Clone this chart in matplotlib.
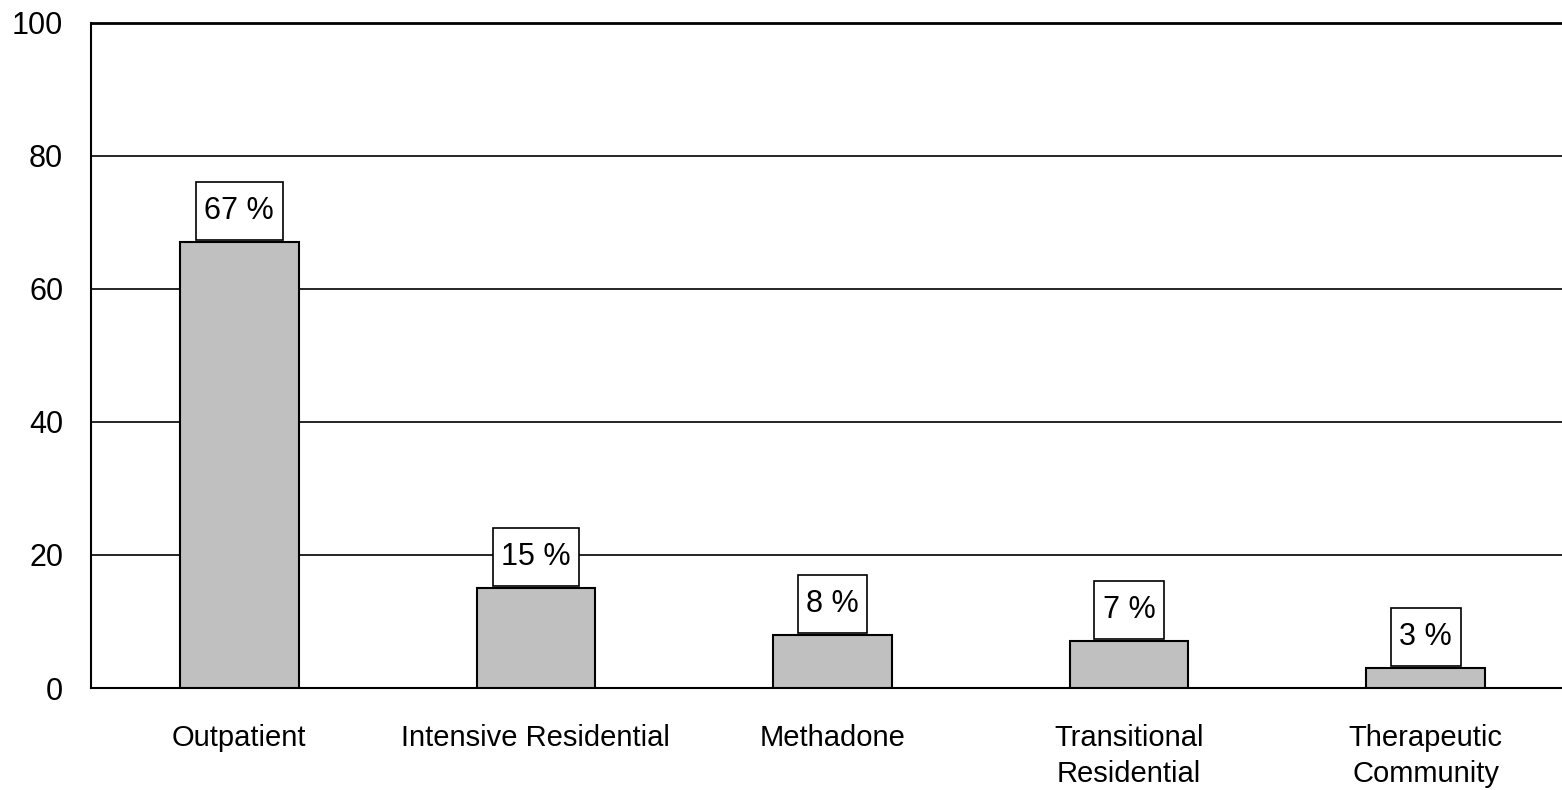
import numpy as np
import matplotlib.pyplot as plt
from matplotlib.path import Path

categories = ['Outpatient', 'Intensive Residential', 'Methadone', 'Transitional\nResidential', 'Therapeutic\nCommunity']
values = [67, 15, 8, 7, 3]
yticks = [0, 20, 40, 60, 80, 100]

plt.rcParams['font.family'] = ['Liberation Sans', 'DejaVu Sans']

def label_box(x0, y0, width, height, mutation_size):      # rectangle with more padding up/down than left/right
    px, py = 0.28 * mutation_size, 0.46 * mutation_size
    x0, y0 = x0 - px, y0 - py
    w, h = width + 2 * px, height + 2 * py
    return Path([(x0, y0), (x0 + w, y0), (x0 + w, y0 + h), (x0, y0 + h), (x0, y0)], closed=True)

W, H = 1562, 790
fig = plt.figure(figsize=(W / 100, H / 100), dpi=100)
# axes goes a bit past the right edge like the original
left, right = 91, 1574
bottom, top = 688, 22.5
ax = fig.add_axes([left / W, 1 - bottom / H, (right - left) / W, (bottom - top) / H])

x = np.arange(len(categories))
ax.bar(x, values, width=0.4, color='#c0c0c0', edgecolor='black', linewidth=1.5, zorder=3)

for xi, v in zip(x, values):                     # boxed percentage labels
    ax.annotate('{} %'.format(v), xy=(xi, v), xytext=(0, 11.5), textcoords='offset points',
                ha='center', va='bottom', fontsize=22,
                bbox=dict(boxstyle=label_box, fc='white', ec='black', lw=1.2), zorder=4)

ax.set_xlim(-0.5, len(categories) - 0.5)
ax.set_ylim(0, 100)
ax.set_yticks(yticks)
ax.set_xticks(x)
ax.set_xticklabels(categories, linespacing=1.35)
ax.tick_params(axis='both', length=0, labelsize=22)
ax.tick_params(axis='x', labelsize=21, pad=26)
ax.tick_params(axis='y', pad=20)
ax.yaxis.grid(True, color='black', linewidth=1.2, zorder=0)
for s in ['left', 'bottom']:
    ax.spines[s].set_linewidth(1.5)
ax.spines['top'].set_linewidth(2)
ax.spines['right'].set_visible(False)

fig.savefig('out.png', dpi=100)
